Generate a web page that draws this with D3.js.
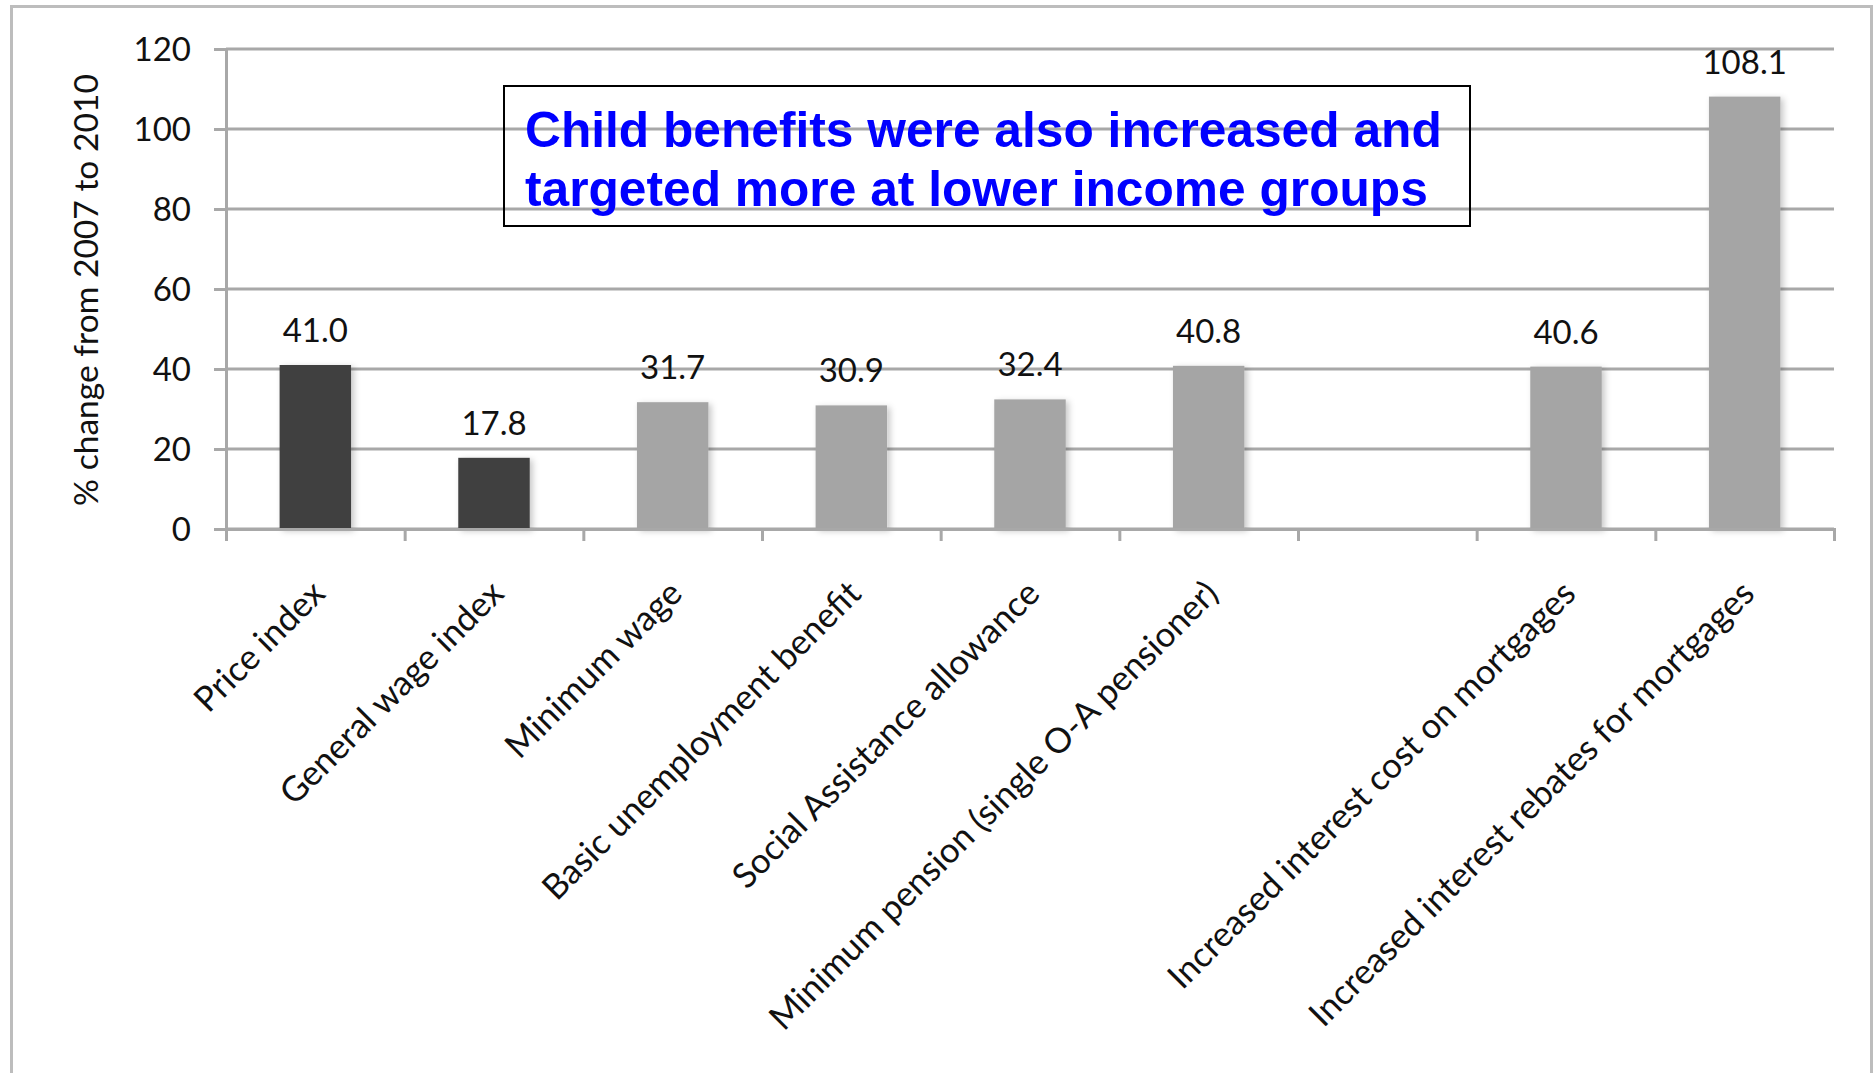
<!DOCTYPE html>
<html>
<head>
<meta charset="utf-8">
<script src="https://cdn.jsdelivr.net/npm/d3@7"></script>
<style>
  html, body { margin: 0; padding: 0; background: #fff; }
  svg { display: block; }
  .lbl { font-family: Lato, "Open Sans", sans-serif; fill: #111; }
</style>
</head>
<body>
<svg id="chart" width="1874" height="1073"></svg>
<script>
// Categories in display order; the empty entry leaves a gap before the mortgage items
const categories = [
  "Price index",
  "General wage index",
  "Minimum wage",
  "Basic unemployment benefit",
  "Social Assistance allowance",
  "Minimum pension (single O-A pensioner)",
  "",
  "Increased interest cost on mortgages",
  "Increased interest rebates for mortgages"
];
// % change from 2007 to 2010
const values = [41.0, 17.8, 31.7, 30.9, 32.4, 40.8, null, 40.6, 108.1];
// Reference indices are shaded dark, transfers / mortgage items light
const groups = ["index", "index", "transfer", "transfer", "transfer", "transfer", null, "transfer", "transfer"];
const yTicks = [0, 20, 40, 60, 80, 100, 120];
const yTitle = "% change from 2007 to 2010";
const noteLines = [
  "Child benefits were also increased and",
  "targeted more at lower income groups"
];

const colors = { index: "#404040", transfer: "#a5a5a5" };
const gridColor = "#a8a8a8";

const svg = d3.select("#chart");
const plot = { left: 226, right: 1834, top: 49, bottom: 529 };

// Outer chart frame
svg.append("rect")
  .attr("x", 11.5).attr("y", 6.5)
  .attr("width", 1860).attr("height", 1100)
  .attr("fill", "none")
  .attr("stroke", "#bdbdbd")
  .attr("stroke-width", 3);

const idx = categories.map((d, i) => i);
const x = d3.scaleBand()
  .domain(idx)
  .range([plot.left, plot.right])
  .paddingInner(0.6)
  .paddingOuter(0.3);
const xEdge = d3.scaleLinear().domain([0, categories.length]).range([plot.left, plot.right]);
const y = d3.scaleLinear().domain([0, 120]).range([plot.bottom, plot.top]);

// Drop shadow for bars
const defs = svg.append("defs");
const f = defs.append("filter").attr("id", "barShadow")
  .attr("x", "-20%").attr("y", "-10%").attr("width", "150%").attr("height", "130%");
f.append("feDropShadow")
  .attr("dx", 3).attr("dy", 2).attr("stdDeviation", 3)
  .attr("flood-color", "#000").attr("flood-opacity", 0.22);

// Horizontal gridlines
svg.append("g")
  .selectAll("line")
  .data(yTicks)
  .join("line")
  .attr("x1", plot.left).attr("x2", plot.right)
  .attr("y1", d => y(d)).attr("y2", d => y(d))
  .attr("stroke", gridColor).attr("stroke-width", 3);

// Y axis
const yAxis = svg.append("g")
  .attr("transform", `translate(${plot.left},0)`)
  .call(d3.axisLeft(y).tickValues(yTicks).tickSize(12).tickPadding(23).tickFormat(d3.format("d")));
yAxis.select(".domain").attr("stroke", gridColor).attr("stroke-width", 3);
yAxis.selectAll(".tick line").attr("stroke", gridColor).attr("stroke-width", 3);
yAxis.selectAll(".tick text")
  .attr("class", "lbl")
  .attr("font-size", 33)
  .attr("dy", "0.36em");

// Y axis title
svg.append("text")
  .attr("class", "lbl")
  .attr("transform", `translate(86,290) rotate(-90)`)
  .attr("text-anchor", "middle")
  .attr("dy", "0.35em")
  .attr("font-size", 33.6)
  .text(yTitle);

// Bars
const barData = values.map((v, i) => ({ i, v, g: groups[i] })).filter(d => d.v != null);
svg.append("g")
  .selectAll("rect")
  .data(barData)
  .join("rect")
  .attr("x", d => x(d.i))
  .attr("width", x.bandwidth())
  .attr("y", d => y(d.v))
  .attr("height", d => y(0) - y(d.v))
  .attr("fill", d => colors[d.g])
  .attr("filter", "url(#barShadow)");

// X axis with tick marks at category boundaries
const xAxis = svg.append("g")
  .attr("transform", `translate(0,${plot.bottom})`)
  .call(d3.axisBottom(xEdge).ticks(categories.length).tickSize(12).tickFormat(""));
xAxis.select(".domain").attr("stroke", gridColor).attr("stroke-width", 3);
xAxis.selectAll(".tick line").attr("stroke", gridColor).attr("stroke-width", 3);

// Value labels
svg.append("g")
  .selectAll("text")
  .data(barData)
  .join("text")
  .attr("class", "lbl")
  .attr("x", d => x(d.i) + x.bandwidth() / 2)
  .attr("y", d => y(d.v) - 23)
  .attr("text-anchor", "middle")
  .attr("font-size", 33)
  .text(d => d3.format(".1f")(d.v));

// Category labels, rotated
svg.append("g")
  .selectAll("text")
  .data(idx.filter(i => categories[i] !== ""))
  .join("text")
  .attr("class", "lbl")
  .attr("font-size", 34.7)
  .attr("text-anchor", "end")
  .attr("dy", "0.35em")
  .attr("transform", i => `translate(${x(i) + x.bandwidth() / 2 + 3},${plot.bottom + 58}) rotate(-45)`)
  .text(i => categories[i]);

// Annotation box
svg.append("rect")
  .attr("x", 504).attr("y", 86)
  .attr("width", 966).attr("height", 140)
  .attr("fill", "none")
  .attr("stroke", "#000")
  .attr("stroke-width", 2);
svg.append("g")
  .selectAll("text")
  .data(noteLines)
  .join("text")
  .attr("x", 525)
  .attr("y", (d, i) => 147 + i * 59)
  .attr("font-family", "'Liberation Sans', Arial, sans-serif")
  .attr("font-weight", "bold")
  .attr("font-size", 49.7)
  .attr("fill", "#0000ff")
  .text(d => d);
</script>
</body>
</html>
